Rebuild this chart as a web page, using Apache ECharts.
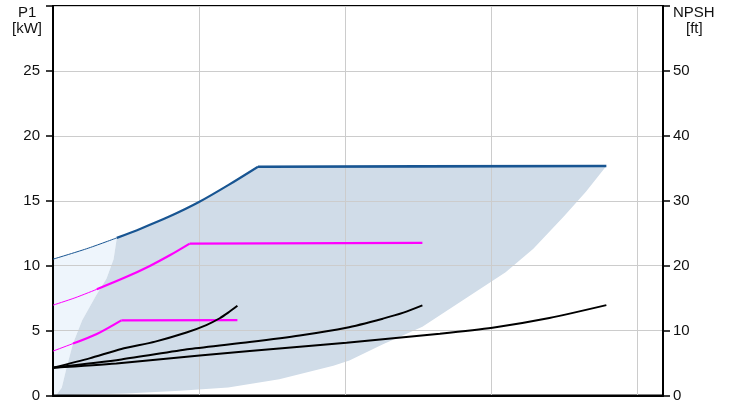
<!DOCTYPE html>
<html>
<head>
<meta charset="utf-8">
<script src="https://cdn.jsdelivr.net/npm/echarts@6/dist/echarts.min.js"></script>
<style>html,body{margin:0;padding:0;background:#fff}#c{width:734px;height:403px}</style>
</head>
<body>
<div id="c"></div>
<script>
// ---- data (x in grid units, y in kW on left axis) ----
const leftTicks = [0, 5, 10, 15, 20, 25];
const rightTicks = [0, 10, 20, 30, 40, 50];

const blueThin = [[0, 10.5], [0.229, 11.3], [0.437, 12.14]];
const blueRise = [[0.437, 12.14], [0.6, 12.85], [0.8, 13.8], [1.0, 14.9], [1.2, 16.2], [1.404, 17.62]];
const blueFlat = [[1.404, 17.62], [2.5, 17.65], [3.79, 17.68]];

const pinkHiThin = [[0, 6.96], [0.15, 7.52], [0.30, 8.18]];
const pinkHiRise = [[0.30, 8.18], [0.5, 9.12], [0.663, 9.98], [0.8, 10.8], [0.936, 11.7]];
const pinkHiFlat = [[0.936, 11.7], [2.53, 11.76]];

const pinkLoThin = [[0, 3.42], [0.137, 4.0]];
const pinkLoRise = [[0.137, 4.0], [0.3, 4.74], [0.468, 5.79]];
const pinkLoFlat = [[0.468, 5.79], [1.263, 5.81]];

const black1 = [[0, 2.14], [0.25, 2.86], [0.468, 3.58], [0.7, 4.15], [0.914, 4.85], [1.05, 5.42], [1.142, 5.95], [1.2, 6.38], [1.263, 6.91]];
const black2 = [[0, 2.14], [0.468, 2.78], [0.936, 3.58], [1.347, 4.12], [1.69, 4.62], [2.01, 5.22], [2.26, 5.92], [2.4, 6.38], [2.53, 6.94]];
const black3 = [[0, 2.14], [0.434, 2.47], [1.005, 3.09], [1.69, 3.75], [2.01, 4.06], [2.65, 4.76], [3.01, 5.22], [3.4, 5.97], [3.79, 6.96]];

// operating region (dark) boundary: left edge bottom->top, then along top, then right/bottom edge back
const regionLeft = [[0.02, 0], [0.06, 0.6], [0.09, 2.0], [0.137, 4.0], [0.2, 5.8], [0.297, 7.75], [0.366, 9.0], [0.415, 10.5], [0.437, 12.14]];
const regionRight = [[3.79, 17.68], [3.65, 15.7], [3.5, 13.8], [3.29, 11.3], [3.1, 9.5], [2.53, 5.3], [2.26, 3.95], [2.03, 2.7], [1.92, 2.3], [1.55, 1.25], [1.2, 0.62], [0.87, 0.36], [0.5, 0.15], [0.1, 0.03], [0.02, 0]];
// light region: left axis up to the thin blue curve
const lightStart = [[0, 0], [0, 10.5]];

const darkPoly = regionLeft.concat(blueRise.slice(1), blueFlat.slice(1), regionRight.slice(1));
const lightPoly = lightStart.concat(blueThin.slice(1), regionLeft.slice().reverse().slice(1));

const FONT = 'Liberation Sans, Arial, sans-serif';

function polySeries(points, color) {
  return {
    type: 'custom', z: -1, silent: true, clip: true,
    data: [0],
    renderItem: function (params, api) {
      const pts = points.map(p => api.coord(p));
      return { type: 'polygon', shape: { points: pts, smooth: 0 }, style: { fill: color } };
    }
  };
}
function lineSeries(data, color, width, smooth) {
  return {
    type: 'line', data: data, showSymbol: false, symbol: 'none', silent: true,
    smooth: smooth || false, lineStyle: { color: color, width: width }, z: 3
  };
}

const chart = echarts.init(document.getElementById('c'), null, { renderer: 'canvas' });
chart.setOption({
  animation: false,
  backgroundColor: '#fff',
  grid: { left: 53, right: 71, top: 6, bottom: 5, show: true, borderColor: '#000', borderWidth: 2, backgroundColor: 'transparent' },
  xAxis: {
    type: 'value', min: 0, max: 4.178, interval: 1,
    axisLine: { show: true, lineStyle: { color: '#000', width: 2 } },
    axisTick: { show: false }, axisLabel: { show: false },
    splitLine: { show: true, lineStyle: { color: '#cccccc', width: 1 } }
  },
  yAxis: [{
    type: 'value', min: 0, max: 30, interval: 5, position: 'left',
    axisLine: { show: true, lineStyle: { color: '#000', width: 2 } },
    axisTick: { show: true, length: 7, lineStyle: { color: '#000', width: 1.5 } },
    axisLabel: { margin: 13, color: '#111', fontSize: 15, fontFamily: FONT,
      formatter: v => leftTicks.indexOf(v) >= 0 ? String(v) : '' },
    splitLine: { show: true, lineStyle: { color: '#cccccc', width: 1 } }
  }, {
    type: 'value', min: 0, max: 60, interval: 10, position: 'right',
    axisLine: { show: true, lineStyle: { color: '#000', width: 2 } },
    axisTick: { show: true, length: 7, lineStyle: { color: '#000', width: 1.5 } },
    axisLabel: { margin: 10, color: '#111', fontSize: 15, fontFamily: FONT,
      formatter: v => rightTicks.indexOf(v) >= 0 ? String(v) : '' },
    splitLine: { show: false }
  }],
  graphic: [
    { type: 'text', left: 18, top: 5, style: { text: 'P1', font: '15px ' + FONT, fill: '#111' } },
    { type: 'text', left: 12, top: 21, style: { text: '[kW]', font: '15px ' + FONT, fill: '#111' } },
    { type: 'text', left: 673, top: 5, style: { text: 'NPSH', font: '15px ' + FONT, fill: '#111' } },
    { type: 'text', left: 686, top: 21, style: { text: '[ft]', font: '15px ' + FONT, fill: '#111' } }
  ],
  series: [
    polySeries(lightPoly, '#eef5fc'),
    polySeries(darkPoly, '#d0dce8'),
    lineSeries(blueThin, '#185592', 1, 0.3),
    lineSeries(blueRise, '#185592', 2.2, 0.3),
    lineSeries(blueFlat, '#185592', 2.6),
    lineSeries(pinkHiThin, '#ff00ff', 1, 0.3),
    lineSeries(pinkHiRise, '#ff00ff', 2.2, 0.3),
    lineSeries(pinkHiFlat, '#ff00ff', 2.2),
    lineSeries(pinkLoThin, '#ff00ff', 1, 0.3),
    lineSeries(pinkLoRise, '#ff00ff', 2.2, 0.3),
    lineSeries(pinkLoFlat, '#ff00ff', 2.2),
    lineSeries(black1, '#000', 2, 0.25),
    lineSeries(black2, '#000', 2, 0.25),
    lineSeries(black3, '#000', 2, 0.25)
  ]
});
</script>
</body>
</html>
